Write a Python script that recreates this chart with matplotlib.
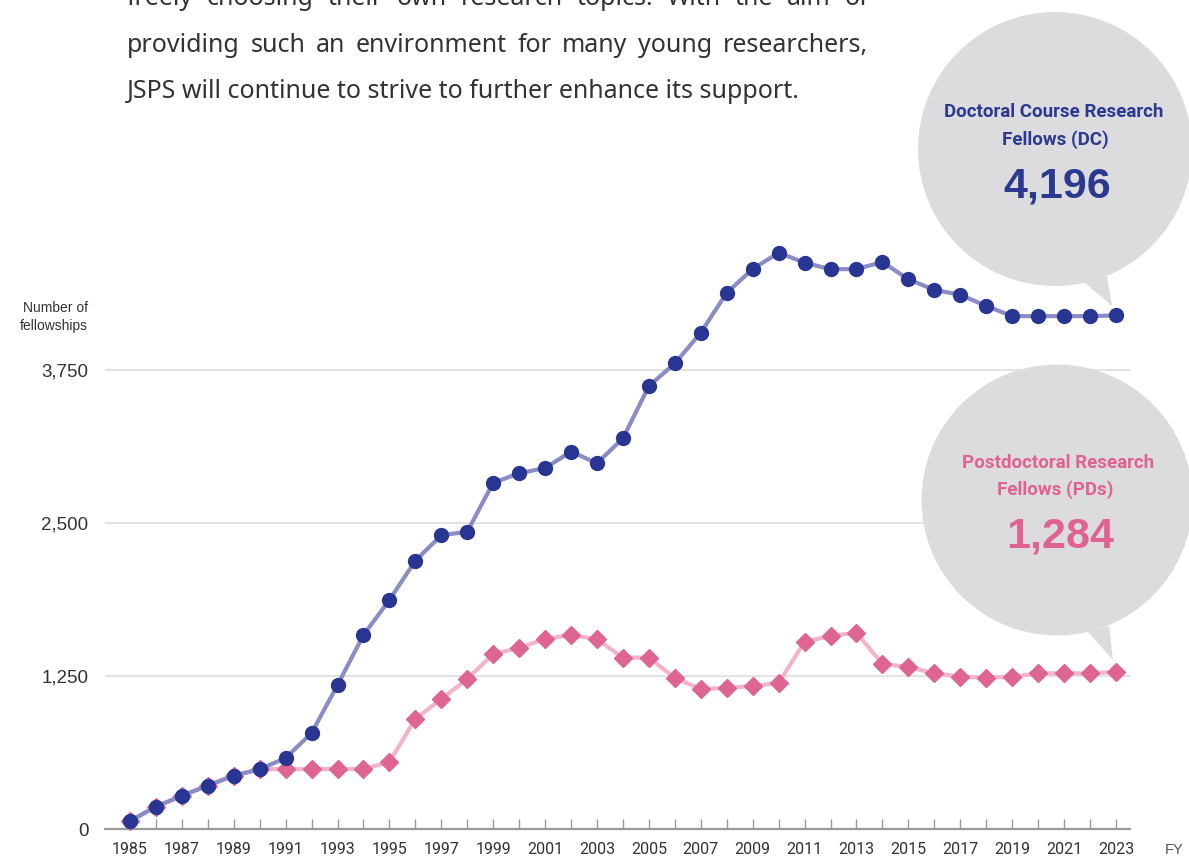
import matplotlib
matplotlib.use('Agg')
import matplotlib.pyplot as plt
from matplotlib.patches import Circle, Polygon
from matplotlib.ticker import FixedLocator

# fiscal years and fellowship counts
years = list(range(1985, 2024))
dc = [65, 182, 272, 354, 436, 488, 580, 784, 1176, 1585,
      1871, 2192, 2400, 2429, 2829, 2906, 2949, 3083, 2988, 3192,
      3619, 3804, 4055, 4381, 4575, 4708, 4627, 4573, 4575, 4632,
      4491, 4404, 4365, 4273, 4190, 4190, 4190, 4190, 4196]
pds = [65, 182, 272, 354, 436, 488, 490, 490, 490, 490,
       547, 899, 1062, 1225, 1430, 1479, 1552, 1585, 1550, 1400,
       1400, 1234, 1144, 1152, 1168, 1193, 1530, 1577, 1604, 1348,
       1324, 1272, 1244, 1236, 1244, 1272, 1272, 1272, 1284]
y_ticks = [0, 1250, 2500, 3750]
y_labels = ['0', '1,250', '2,500', '3,750']
label_years = list(range(1985, 2024, 2))

body = [
    "freely choosing their own research topics. With the aim of",
    "providing such an environment for many young researchers,",
    "JSPS will continue to strive to further enhance its support.",
]

NAVY = '#283593'
NAVY_LINE = '#8a8cc6'
PINK = '#de6592'
PINK_LINE = '#f2b3cb'
BUBBLE = '#dcdcde'
TXT = '#333333'

W, H = 1189, 859
fig = plt.figure(figsize=(W / 100, H / 100), dpi=100)
ax = fig.add_axes([105 / W, 30 / H, 1025 / W, 612 / H])
ax.set_xlim(1984.04, 2023.54)
ax.set_ylim(0, 5000)

ax.plot(years, pds, color=PINK_LINE, lw=3, marker='D', ms=9,
        mfc=PINK, mec=PINK, clip_on=False, zorder=3)
ax.plot(years, dc, color=NAVY_LINE, lw=3, marker='o', ms=10,
        mfc=NAVY, mec=NAVY, clip_on=False, zorder=4)

ax.set_yticks(y_ticks)
ax.set_yticklabels(y_labels, family='Liberation Sans')
ax.yaxis.grid(True, color='#dddddd', lw=1.2)
ax.set_axisbelow(True)
ax.tick_params(axis='y', length=0, pad=12, labelsize=13.5, labelcolor=TXT)

ax.xaxis.set_major_locator(FixedLocator(label_years))
ax.xaxis.set_minor_locator(FixedLocator([y for y in years if y not in label_years]))
ax.set_xticklabels([str(y) for y in label_years], family='Roboto')
ax.tick_params(axis='x', which='both', direction='in', length=7, width=1,
               color='#9a9a9a', pad=9, labelsize=11.5, labelcolor=TXT)
for s in ['top', 'right', 'left']:
    ax.spines[s].set_visible(False)
ax.spines['bottom'].set_color('#9a9a9a')
ax.spines['bottom'].set_linewidth(1.6)

# overlay in pixel coordinates for the text and speech bubbles
ov = fig.add_axes([0, 0, 1, 1], zorder=5)
ov.set_xlim(0, W)
ov.set_ylim(H, 0)
ov.axis('off')
ov.patch.set_alpha(0)

ov.add_patch(Circle((1055, 149), 137, color=BUBBLE, lw=0))
ov.add_patch(Polygon([(1084, 282), (1107, 276), (1112, 306)], color=BUBBLE, lw=0))
ov.add_patch(Circle((1057, 500), 135.5, color=BUBBLE, lw=0))
ov.add_patch(Polygon([(1088, 632), (1109, 626), (1113, 660)], color=BUBBLE, lw=0))

lab = dict(ha='center', va='center', fontsize=13.5, fontweight='bold', family='Roboto')
num = dict(ha='center', va='center', fontsize=31, fontweight='bold', family='Liberation Sans')
ov.text(1054, 112, 'Doctoral Course Research', color='#2b3990', **lab)
ov.text(1055, 140, 'Fellows (DC)', color='#2b3990', **lab)
ov.text(1057, 187, '4,196', color='#2b3990', **num)

ov.text(1058, 463, 'Postdoctoral Research', color='#e06292', **lab)
ov.text(1055, 490, 'Fellows (PDs)', color='#e06292', **lab)
ov.text(1060, 537, '1,284', color='#e06292', **num)

ov.text(88, 317, 'Number of\nfellowships', ha='right', va='center',
        multialignment='right', fontsize=10, color=TXT,
        linespacing=1.3, family='Liberation Sans')
ov.text(1174, 850, 'FY', ha='center', va='center', fontsize=10.5,
        color='#555555', family='Liberation Sans')

# body paragraph, first two lines justified
r = fig.canvas.get_renderer()
bfont = dict(fontsize=18, color=TXT, family='Noto Sans', va='baseline')
baselines = [5, 52, 98]
for i, line in enumerate(body):
    if i == len(body) - 1:
        ov.text(127, baselines[i], line, ha='left', **bfont)
        continue
    words = line.split()
    items = [ov.text(0, baselines[i], w, ha='left', **bfont) for w in words]
    widths = [t.get_window_extent(r).width for t in items]
    gap = (741 - sum(widths)) / (len(words) - 1)
    x = 127
    for t, w in zip(items, widths):
        t.set_x(x)
        x += w + gap

fig.savefig('out.png', dpi=100)
